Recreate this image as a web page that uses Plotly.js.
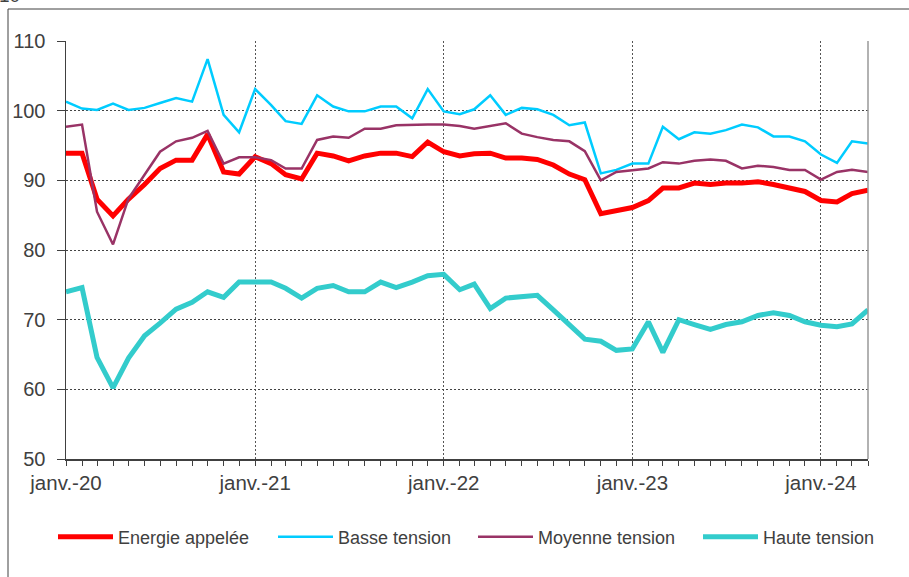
<!DOCTYPE html>
<html>
<head>
<meta charset="utf-8">
<script src="https://cdn.plot.ly/plotly-3.0.1.min.js"></script>
<style>
  html, body { margin: 0; padding: 0; background: #fff; }
  #chart { width: 909px; height: 577px; }
</style>
</head>
<body>
<div id="chart"></div>
<script>
// Months: janv. 2020 -> avr. 2024 (52 monthly points)
const months = [];
for (let y = 2020; y <= 2024; y++) {
  for (let m = 1; m <= 12; m++) {
    if (y === 2024 && m > 4) break;
    months.push(y + '-' + String(m).padStart(2, '0') + '-01');
  }
}

const seriesNames = ['Energie appelée', 'Basse tension', 'Moyenne tension', 'Haute tension'];

const energieAppelee = [93.9,93.9,87.3,84.9,87.3,89.4,91.7,92.9,92.9,96.6,91.2,90.9,93.4,92.4,90.8,90.2,
  93.9,93.5,92.8,93.5,93.9,93.9,93.4,95.5,94.1,93.5,93.8,93.9,93.2,93.2,93.0,92.2,90.9,90.1,
  85.2,85.7,86.1,87.1,88.9,88.9,89.6,89.4,89.6,89.6,89.8,89.4,88.9,88.4,87.1,86.9,88.1,88.6];

const basseTension = [101.3,100.3,100.1,101.0,100.1,100.4,101.1,101.8,101.3,107.4,99.4,96.9,103.1,100.8,98.5,98.1,
  102.2,100.6,99.9,99.9,100.6,100.6,98.9,103.1,99.9,99.5,100.2,102.2,99.4,100.4,100.2,99.4,97.9,98.3,
  91.0,91.5,92.4,92.4,97.7,95.9,96.9,96.7,97.2,98.0,97.6,96.3,96.3,95.6,93.7,92.5,95.6,95.3];

const moyenneTension = [97.7,98.0,85.5,80.8,87.4,90.8,94.1,95.6,96.1,97.1,92.4,93.3,93.3,92.9,91.7,91.7,
  95.8,96.3,96.1,97.4,97.4,97.9,98.0,98.0,98.0,97.8,97.4,97.8,98.2,96.7,96.2,95.8,95.6,94.2,
  90.0,91.2,91.5,91.7,92.6,92.4,92.8,93.0,92.8,91.7,92.1,91.9,91.5,91.5,90.1,91.2,91.5,91.2];

const hauteTension = [74.0,74.6,64.6,60.2,64.5,67.7,69.5,71.5,72.5,74.0,73.2,75.4,75.4,75.4,74.5,73.1,
  74.5,74.9,74.0,74.0,75.4,74.6,75.4,76.3,76.5,74.3,75.1,71.6,73.1,73.3,73.5,71.4,69.2,67.2,
  66.9,65.6,65.8,69.7,65.3,70.0,69.3,68.6,69.3,69.7,70.6,71.0,70.6,69.7,69.2,69.0,69.4,71.4];

const xTickVals = ['2020-01-01','2021-01-01','2022-01-01','2023-01-01','2024-01-01'];
const xTickText = ['janv.-20','janv.-21','janv.-22','janv.-23','janv.-24'];
const yTickVals = [50,60,70,80,90,100,110];

const colors = ['#FF0000', '#00CCFF', '#993366', '#33CCCC'];
const widths = [5, 2.5, 2.5, 5];
const values = [energieAppelee, basseTension, moyenneTension, hauteTension];
const legendIds = ['legend', 'legend2', 'legend3', 'legend4'];

const traces = values.map((v, k) => ({
  type: 'scatter', mode: 'lines', x: months, y: v, name: seriesNames[k],
  line: { color: colors[k], width: widths[k] }, legend: legendIds[k]
}));

const W = 909, H = 577, ml = 66, mr = 41, mt = 41, mb = 118;
const pw = W - ml - mr, ph = H - mt - mb;
const px = x => (x - ml) / pw;          // pixel x -> paper
const py = y => (H - mb - y) / ph;      // pixel y -> paper

const txt = '#404040';
const legendStarts = [53, 273, 473, 698];
const mkLegend = x0 => ({
  orientation: 'h', x: px(x0), xanchor: 'left', y: py(537), yanchor: 'middle',
  font: { size: 18, color: txt }, itemwidth: 55, bgcolor: 'rgba(0,0,0,0)'
});

const layout = {
  width: W, height: H,
  margin: { l: ml, r: mr, t: mt, b: mb, pad: 0 },
  paper_bgcolor: '#fff', plot_bgcolor: '#fff',
  font: { family: 'Liberation Sans, Arial, sans-serif', size: 18, color: txt },
  showlegend: true,
  xaxis: {
    type: 'date', range: ['2020-01-01', '2024-04-01'],
    tickmode: 'array', tickvals: xTickVals, ticktext: xTickText,
    ticks: 'outside', ticklen: 5, tickcolor: '#404040', tickwidth: 1,
    showgrid: true, gridcolor: '#555', griddash: '2px,2px', gridwidth: 1,
    showline: true, linecolor: '#404040', linewidth: 1.5,
    zeroline: false, tickfont: { size: 20.5, color: txt },
    minor: { dtick: 'M1', tick0: '2020-01-01', ticks: 'outside', ticklen: 5, tickcolor: '#404040', showgrid: false }
  },
  yaxis: {
    range: [50, 110], tickmode: 'array', tickvals: yTickVals,
    ticks: 'outside', ticklen: 8, tickcolor: '#404040', tickwidth: 1,
    showgrid: true, gridcolor: '#444', griddash: '2px,2px', gridwidth: 1,
    showline: true, linecolor: '#404040', linewidth: 1.5,
    zeroline: false, tickfont: { size: 20, color: txt }, ticklabelstandoff: 7
  },
  legend: mkLegend(legendStarts[0]),
  legend2: mkLegend(legendStarts[1]),
  legend3: mkLegend(legendStarts[2]),
  legend4: mkLegend(legendStarts[3]),
  shapes: [
    { type: 'line', xref: 'paper', yref: 'paper', x0: 1, x1: 1, y0: 0, y1: 1, line: { color: '#999', width: 1.5 } },
    { type: 'line', xref: 'paper', yref: 'paper', x0: px(8), x1: px(8), y0: py(9), y1: py(590), line: { color: '#404040', width: 1 } },
    { type: 'line', xref: 'paper', yref: 'paper', x0: px(8), x1: px(920), y0: py(9), y1: py(9), line: { color: '#404040', width: 1 } }
  ],
  annotations: [
    { xref: 'paper', yref: 'paper', x: px(-3), y: py(8), xanchor: 'left', yanchor: 'bottom',
      text: '10', showarrow: false, font: { size: 19, color: txt } }
  ]
};

Plotly.newPlot('chart', traces, layout, { displayModeBar: false, staticPlot: true });
</script>
</body>
</html>
